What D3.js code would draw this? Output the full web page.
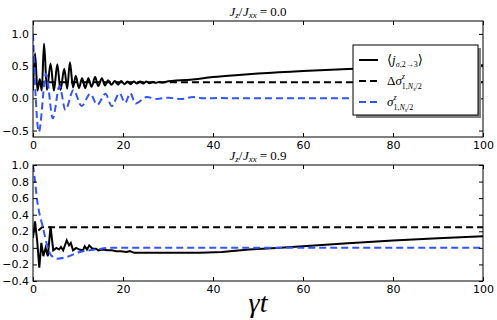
<!DOCTYPE html>
<html>
<head>
<meta charset="utf-8">
<script src="https://cdn.jsdelivr.net/npm/d3@7"></script>
<style>
body { margin: 0; background: #fff; }
svg { display: block; }
.tick text { font-family: "DejaVu Sans", sans-serif; font-size: 11px; fill: #000; }
.tick line { stroke: #000; }
</style>
</head>
<body>
<div id="chart"></div>
<script>
// ---- data ----
const xTicks = [0, 20, 40, 60, 80, 100];
const topYTicks = [-0.5, 0.0, 0.5, 1.0];
const botYTicks = [-0.4, -0.2, 0.0, 0.2, 0.4, 0.6, 0.8, 1.0];
const panelJz = ["0.0", "0.9"];

// J_z/J_xx = 0.0 : current <j> (extrema then slow rise)
const jTopT = [0, 0.45, 1.0, 1.5, 1.95, 2.45, 3.1, 3.9, 4.65, 5.4, 6.1, 6.95, 7.6, 8.2, 8.9, 9.5,
  10.2, 10.9, 11.6, 12.3, 13.0, 13.8, 14.5, 15.3, 16.0, 16.7, 17.4, 18.2, 18.9, 19.6, 20.3, 21.0,
  21.7, 22.4, 23.1, 23.8, 24.5, 25.2, 25.9, 26.6, 27.3, 28.0, 28.7, 29.4, 35, 40, 45, 50, 60, 70, 80, 90, 100];
const jTopV = [0.12, 0.70, 0.12, 0.30, 0.12, 0.85, 0.13, 0.54, 0.12, 0.53, 0.13, 0.46, 0.15, 0.56, 0.17, 0.35,
  0.16, 0.31, 0.16, 0.31, 0.18, 0.33, 0.19, 0.31, 0.20, 0.28, 0.21, 0.27, 0.21, 0.27, 0.22, 0.26,
  0.22, 0.26, 0.23, 0.26, 0.23, 0.26, 0.235, 0.255, 0.24, 0.255, 0.245, 0.255, 0.29, 0.33, 0.36, 0.385, 0.425, 0.455, 0.48, 0.50, 0.515];
const deltaT = [1.2, 2.0, 100];
const deltaTopV = [0.22, 0.25, 0.25];
const sigmaTopT = [0, 1.3, 2.9, 4.4, 5.9, 7.2, 9.0, 10.8, 12.7, 14.3, 16.1, 17.5, 19.2, 20.5, 21.6, 22.8,
  25.3, 27.5, 30, 33, 35.6, 38, 42, 45, 100];
const sigmaTopV = [1.0, -0.52, 0.38, -0.31, 0.19, -0.18, 0.13, -0.12, 0.07, -0.10, 0.07, -0.12, 0.08, -0.07, 0.08, -0.08,
  0.02, -0.01, 0.01, -0.01, 0.02, 0.0, 0.005, 0.0, 0.0];

// J_z/J_xx = 0.9
const jBotT = [0, 0.45, 0.95, 1.4, 1.85, 2.3, 2.8, 3.3, 3.9, 4.5, 5.2, 5.8, 6.2, 6.7, 7.5, 8.0, 8.4, 8.9, 9.6,
  10.3, 11.1, 11.5, 12.0, 12.5, 13.2, 14.0, 14.5, 15.5, 16.5, 17.5, 18.5, 19.5, 20.8, 21.5, 22.5, 25, 30, 37,
  42, 48, 55, 60, 70, 80, 90, 100];
const jBotV = [0.12, 0.32, 0.07, -0.24, 0.06, -0.10, 0.0, -0.10, 0.26, -0.03, 0.0, -0.02, 0.01, -0.03, 0.09, 0.03, 0.06, -0.03, 0.0,
  -0.02, -0.03, 0.02, -0.02, 0.03, -0.01, -0.01, -0.03, -0.02, -0.03, -0.03, -0.04, -0.04, -0.05, -0.04, -0.06, -0.06, -0.06, -0.06,
  -0.05, -0.02, 0.0, 0.02, 0.055, 0.09, 0.115, 0.14];
const deltaBotV = [0.21, 0.25, 0.25];
const sigmaBotT = [0, 0.5, 0.8, 1.3, 2.2, 3.0, 4.0, 5.5, 7.5, 10.4, 14, 17, 100];
const sigmaBotV = [1.0, 0.78, 0.62, 0.45, 0.25, 0.06, -0.09, -0.13, -0.11, -0.05, -0.02, 0.0, 0.0];

// ---- layout ----
const W = 497, H = 320;
const X0 = 33, X1 = 483;
const BLUE = "#3355ff";

const svg = d3.select("#chart").append("svg")
	.attr("width", W)
	.attr("height", H);

const xScale = d3.scaleLinear().domain([0, 100]).range([X0, X1]);

// draw a line of pieces (italic / small / shifted) as separate text nodes
function mathText(g, parts, size) {
	var t = g.append("g").attr("font-family", "'Liberation Serif', 'DejaVu Serif', serif").attr("fill", "#000");
	var cx = 0, mark = 0;
	parts.forEach(function(p) {
		if (p.back) cx = mark;
		if (p.mark) mark = cx;
		var el = t.append("text")
			.attr("x", cx)
			.attr("y", p.dy || 0)
			.attr("font-size", p.f || size)
			.attr("font-style", p.i ? "italic" : "normal")
			.text(p.s);
		cx += el.node().getComputedTextLength() + (p.pad || 0);
	});
	return {node: t, width: cx};
}

function panel(top, bottom, yDomain, yTicks, series, jz, idx) {
	var yScale = d3.scaleLinear().domain(yDomain).range([bottom, top]);
	var g = svg.append("g");

	var clipId = "clip" + idx;
	svg.append("clipPath").attr("id", clipId)
		.append("rect").attr("x", X0).attr("y", top).attr("width", X1 - X0).attr("height", bottom - top);

	var lines = g.append("g").attr("clip-path", "url(#" + clipId + ")");
	series.forEach(function(s) {
		var pts = s.t.map(function(t, i) { return [t, s.v[i]]; });
		var line = d3.line()
			.x(function(d) { return xScale(d[0]); })
			.y(function(d) { return yScale(d[1]); })
			.curve(s.curve);
		lines.append("path")
			.attr("d", line(pts))
			.attr("fill", "none")
			.attr("stroke", s.color)
			.attr("stroke-width", s.width)
			.attr("stroke-dasharray", s.dash || null);
	});

	// ticks point inward on all four sides
	var fmt = d3.format(".1f");
	g.append("g").attr("transform", "translate(0," + bottom + ")")
		.call(d3.axisBottom(xScale).tickValues(xTicks).tickSize(-4).tickPadding(4).tickFormat(d3.format("d")))
		.call(function(a) { a.select(".domain").remove(); });
	g.append("g").attr("transform", "translate(0," + top + ")")
		.call(d3.axisTop(xScale).tickValues(xTicks).tickSize(-4).tickFormat(""))
		.call(function(a) { a.select(".domain").remove(); });
	g.append("g").attr("transform", "translate(" + X0 + ",0)")
		.call(d3.axisLeft(yScale).tickValues(yTicks).tickSize(-4).tickPadding(4).tickFormat(fmt))
		.call(function(a) { a.select(".domain").remove(); });
	g.append("g").attr("transform", "translate(" + X1 + ",0)")
		.call(d3.axisRight(yScale).tickValues(yTicks).tickSize(-4).tickFormat(""))
		.call(function(a) { a.select(".domain").remove(); });

	g.append("rect")
		.attr("x", X0).attr("y", top)
		.attr("width", X1 - X0).attr("height", bottom - top)
		.attr("fill", "none").attr("stroke", "#000").attr("stroke-width", 1);

	// title  J_z/J_xx = ...
	var title = mathText(g, [
		{s: "J", i: true},
		{s: "z", i: true, f: 9, dy: 2},
		{s: "/", pad: 0.5},
		{s: "J", i: true},
		{s: "xx", i: true, f: 9, dy: 2, pad: 3},
		{s: "= " + jz}
	], 13);
	title.node.attr("transform", "translate(" + ((X0 + X1) / 2 - title.width / 2) + "," + (top - 5) + ")");
}

panel(21, 137, [-0.6, 1.2], topYTicks, [
	{t: jTopT, v: jTopV, color: "#000", width: 2, curve: d3.curveMonotoneX},
	{t: deltaT, v: deltaTopV, color: "#000", width: 2, dash: "7,4", curve: d3.curveLinear},
	{t: sigmaTopT, v: sigmaTopV, color: BLUE, width: 2, dash: "7,4", curve: d3.curveMonotoneX}
], panelJz[0], 0);

panel(165, 281, [-0.4, 1.0], botYTicks, [
	{t: jBotT, v: jBotV, color: "#000", width: 2, curve: d3.curveLinear},
	{t: deltaT, v: deltaBotV, color: "#000", width: 2, dash: "7,4", curve: d3.curveLinear},
	{t: sigmaBotT, v: sigmaBotV, color: BLUE, width: 2, dash: "7,4", curve: d3.curveMonotoneX}
], panelJz[1], 1);

// x label
svg.append("text")
	.attr("x", (X0 + X1) / 2)
	.attr("y", 312)
	.attr("text-anchor", "middle")
	.attr("font-family", "'Liberation Serif', 'DejaVu Serif', serif")
	.attr("font-style", "italic")
	.attr("font-size", 28)
	.text("γt");

// legend
var LX = 353, LY = 45, LW = 125, LH = 70;
var legend = svg.append("g");
legend.append("rect").attr("x", LX + 3).attr("y", LY + 3).attr("width", LW).attr("height", LH).attr("fill", "#808080");
legend.append("rect").attr("x", LX).attr("y", LY).attr("width", LW).attr("height", LH)
	.attr("fill", "#fff").attr("stroke", "#000").attr("stroke-width", 1);

var legendItems = [
	{color: "#000", dash: null, parts: [
		{s: "⟨"}, {s: "j", i: true}, {s: "σ", i: true, f: 8, dy: 3}, {s: ",2→3", f: 8, dy: 3}, {s: "⟩"}]},
	{color: "#000", dash: "7,4", parts: [
		{s: "Δ"}, {s: "σ", i: true},
		{s: "z", i: true, f: 8, dy: -6, mark: true},
		{s: "1,", f: 8, dy: 4, back: true}, {s: "N", i: true, f: 8, dy: 4}, {s: "s", i: true, f: 6, dy: 6}, {s: "/2", f: 8, dy: 4}]},
	{color: BLUE, dash: "7,4", parts: [
		{s: "σ", i: true},
		{s: "z", i: true, f: 8, dy: -6, mark: true},
		{s: "1,", f: 8, dy: 4, back: true}, {s: "N", i: true, f: 8, dy: 4}, {s: "s", i: true, f: 6, dy: 6}, {s: "/2", f: 8, dy: 4}]}
];
legendItems.forEach(function(d, i) {
	var y = LY + 15 + i * 21;
	legend.append("line")
		.attr("x1", LX + 6).attr("x2", LX + 25)
		.attr("y1", y).attr("y2", y)
		.attr("stroke", d.color).attr("stroke-width", 2)
		.attr("stroke-dasharray", d.dash);
	var m = mathText(legend, d.parts, 13);
	m.node.attr("transform", "translate(" + (LX + 34) + "," + (y + 4) + ")");
});
</script>
</body>
</html>
